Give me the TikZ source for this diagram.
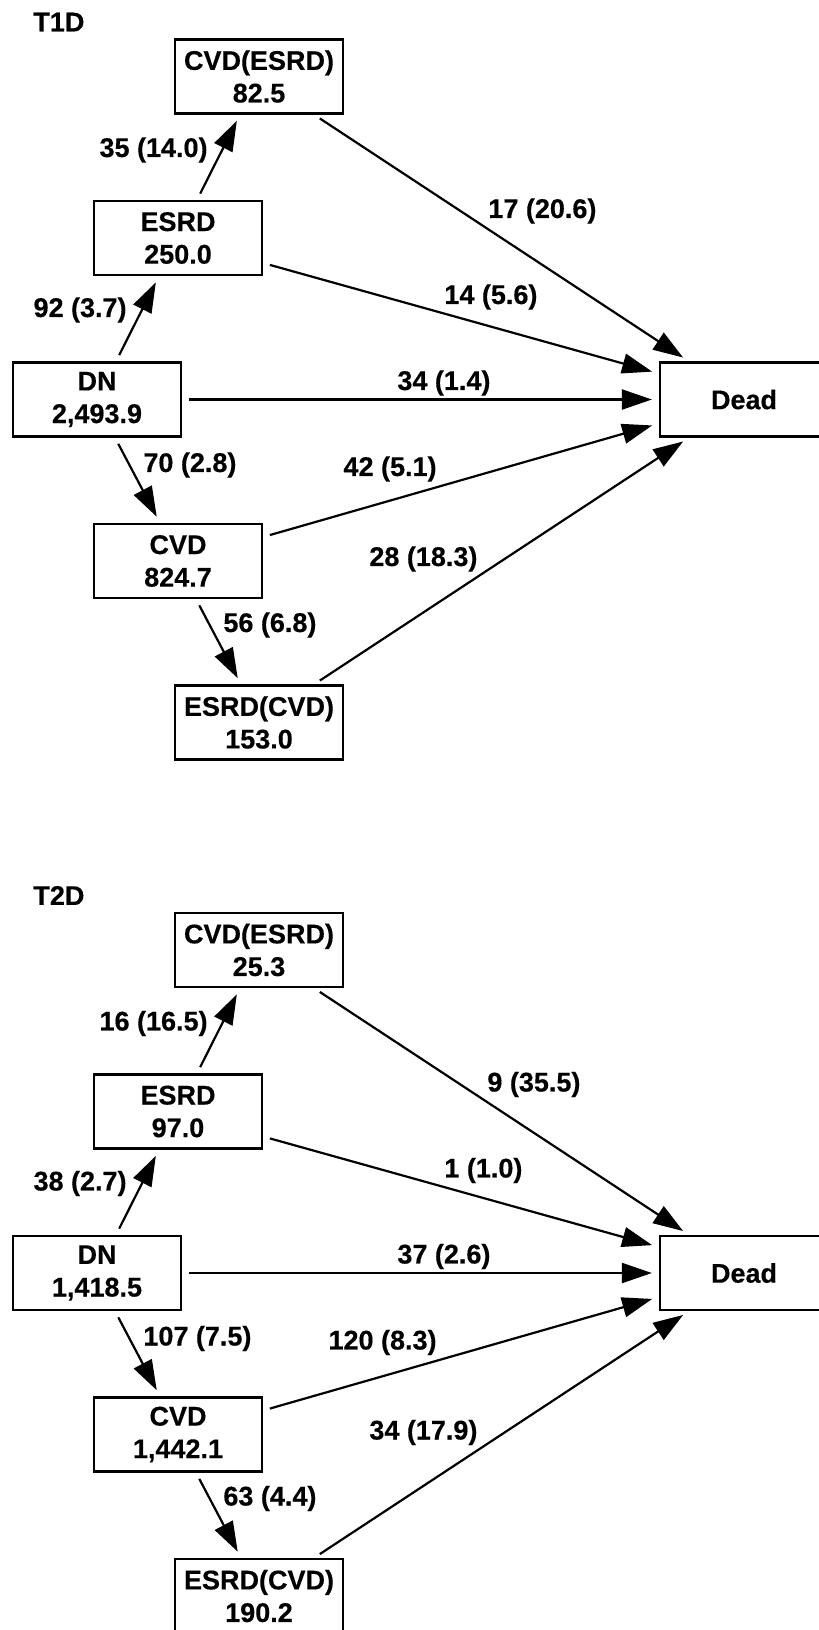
\documentclass[tikz,border=0pt]{standalone}
\usepackage{fontspec}
\setmainfont[BoldFeatures={FakeBold=0.4}]{Liberation Sans}
\usetikzlibrary{arrows.meta}

\begin{document}
\begin{tikzpicture}[
  x=0.5pt, y=-0.5pt,
  every node/.style={font=\fontsize{13.5}{16.3}\selectfont\bfseries},
  state/.style={rectangle, draw, line width=1.1pt, minimum width=84pt,
                minimum height=37pt, inner sep=0pt, align=center},
  lbl/.style={inner sep=0pt, anchor=#1},
  lbl/.default={west},
  arr/.style={-{Triangle[length=15pt,width=10pt]}, line width=1.1pt,
              shorten <=3.5pt, shorten >=3.5pt}
]
  \useasboundingbox (0,0) rectangle (819,1630);
  \clip (0,0) rectangle (819,1630);

  % ---------------- T1D ----------------
  \node[lbl] (t1d) at (33, 22) {T1D};

  % States
  \node[state] (cvde1) at (259, 76.5) {CVD(ESRD)\\82.5};
  \node[state] (esrd1) at (178, 238) {ESRD\\250.0};
  \node[state] (dn1) at (97, 399.5) {DN\\2,493.9};
  \node[state] (cvd1) at (178, 561) {CVD\\824.7};
  \node[state] (esrdc1) at (259, 722.5) {ESRD(CVD)\\153.0};
  \node[state] (dead1) at (744, 399.5) {Dead};

  % Transitions between states
  \draw[arr] ([xshift=9.5pt]dn1.north) -- ([xshift=-9.5pt]esrd1.south);
  \draw[arr] ([xshift=9.5pt]esrd1.north) -- ([xshift=-9.5pt]cvde1.south);
  \draw[arr] ([xshift=9pt]dn1.south) -- ([xshift=-9pt]cvd1.north);
  \draw[arr] ([xshift=9pt]cvd1.south) -- ([xshift=-9pt]esrdc1.north);

  % Transitions to death
  \draw[arr] ([xshift=27.5pt]cvde1.south) -- ([xshift=-27.5pt]dead1.north);
  \draw[arr] ([yshift=-12.5pt]esrd1.east) -- ([yshift=13pt]dead1.west);
  \draw[arr] (dn1.east) -- (dead1.west);
  \draw[arr] ([yshift=12pt]cvd1.east) -- ([yshift=-12pt]dead1.west);
  \draw[arr] ([xshift=27.5pt]esrdc1.north) -- ([xshift=-27.5pt]dead1.south);

  % Counts (rates)
  \node[lbl=east] (l1a) at (208, 150) {35 (14.0)};
  \node[lbl=east] (l1b) at (127, 310) {92 (3.7)};
  \node[lbl] (l1c) at (143, 465) {70 (2.8)};
  \node[lbl] (l1d) at (223, 625) {56 (6.8)};
  \node[lbl] (l1e) at (488, 211) {17 (20.6)};
  \node[lbl] (l1f) at (444, 297) {14 (5.6)};
  \node[lbl] (l1g) at (397, 383) {34 (1.4)};
  \node[lbl=east] (l1h) at (437, 469) {42 (5.1)};
  \node[lbl] (l1i) at (369, 559) {28 (18.3)};

  % ---------------- T2D ----------------
  \begin{scope}[yshift=-436.75pt]
    \node[lbl] (t2d) at (33, 22) {T2D};

    % States
    \node[state] (cvde2) at (259, 76.5) {CVD(ESRD)\\25.3};
    \node[state] (esrd2) at (178, 238) {ESRD\\97.0};
    \node[state] (dn2) at (97, 399.5) {DN\\1,418.5};
    \node[state] (cvd2) at (178, 561) {CVD\\1,442.1};
    \node[state] (esrdc2) at (259, 722.5) {ESRD(CVD)\\190.2};
    \node[state] (dead2) at (744, 399.5) {Dead};

    % Transitions between states
    \draw[arr] ([xshift=9.5pt]dn2.north) -- ([xshift=-9.5pt]esrd2.south);
    \draw[arr] ([xshift=9.5pt]esrd2.north) -- ([xshift=-9.5pt]cvde2.south);
    \draw[arr] ([xshift=9pt]dn2.south) -- ([xshift=-9pt]cvd2.north);
    \draw[arr] ([xshift=9pt]cvd2.south) -- ([xshift=-9pt]esrdc2.north);

    % Transitions to death
    \draw[arr] ([xshift=27.5pt]cvde2.south) -- ([xshift=-27.5pt]dead2.north);
    \draw[arr] ([yshift=-12.5pt]esrd2.east) -- ([yshift=13pt]dead2.west);
    \draw[arr] (dn2.east) -- (dead2.west);
    \draw[arr] ([yshift=12pt]cvd2.east) -- ([yshift=-12pt]dead2.west);
    \draw[arr] ([xshift=27.5pt]esrdc2.north) -- ([xshift=-27.5pt]dead2.south);

    % Counts (rates)
    \node[lbl=east] (l2a) at (208, 150) {16 (16.5)};
    \node[lbl=east] (l2b) at (127, 310) {38 (2.7)};
    \node[lbl] (l2c) at (143, 465) {107 (7.5)};
    \node[lbl] (l2d) at (223, 625) {63 (4.4)};
    \node[lbl] (l2e) at (487, 211) {9 (35.5)};
    \node[lbl] (l2f) at (444, 297) {1 (1.0)};
    \node[lbl] (l2g) at (397, 383) {37 (2.6)};
    \node[lbl=east] (l2h) at (437, 469) {120 (8.3)};
    \node[lbl] (l2i) at (369, 559) {34 (17.9)};
  \end{scope}
\end{tikzpicture}
\end{document}
